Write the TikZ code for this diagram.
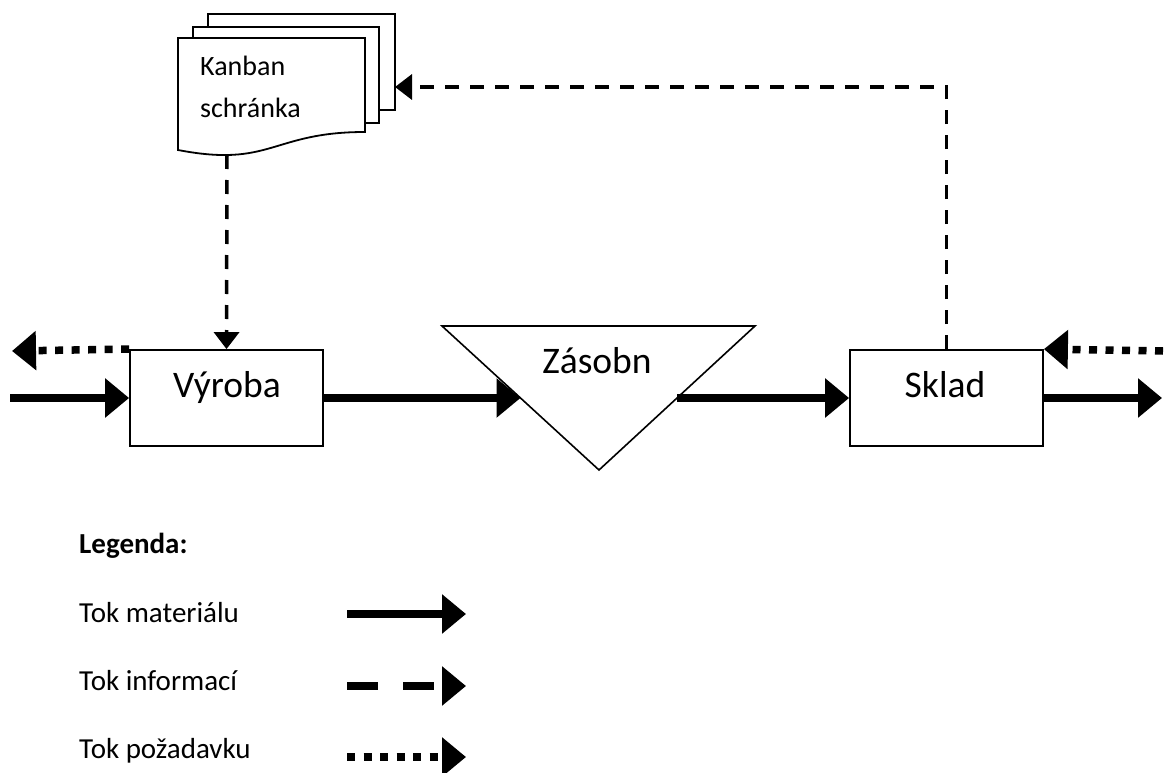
\documentclass[tikz,border=0pt]{standalone}
\usepackage{fontspec}
\setmainfont{Carlito}
\usetikzlibrary{arrows.meta,calc}

\begin{document}
\begin{tikzpicture}[x=1pt,y=-1pt,
  box/.style={draw,line width=1.8pt,fill=white,minimum width=193pt,minimum height=96pt,inner sep=0pt},
  boxlabel/.style={font=\fontsize{37.5}{44}\selectfont,anchor=base,inner sep=0pt},
  doctext/.style={font=\fontsize{28}{33}\selectfont,anchor=base west,inner sep=0pt},
  legtext/.style={font=\fontsize{29}{34}\selectfont,anchor=base west,inner sep=0pt},
  sheet/.style={draw,line width=1.8pt,fill=white,line join=miter},
  material/.style={line width=7.5pt,-{Triangle[length=24pt,width=38pt]}},
  request/.style={line width=7.5pt,dash pattern=on 8pt off 8.5pt,-{Triangle[length=24pt,width=38pt]}},
  info/.style={line width=3.5pt,dash pattern=on 14pt off 11pt,-{Triangle[length=17pt,width=25pt]}},
  legmaterial/.style={line width=8pt,-{Triangle[length=24pt,width=38pt]}},
  leginfo/.style={line width=8pt,dash pattern=on 31pt off 25pt,-{Triangle[length=24pt,width=38pt]}},
  legrequest/.style={line width=8pt,dash pattern=on 8pt off 8.5pt,-{Triangle[length=24pt,width=38pt]}},
]
\useasboundingbox (0,0) rectangle (1170,773);

% Kanban box: a stack of three sheets
\draw[sheet] (208,14) rectangle (395,110);
\draw[sheet] (193,27) rectangle (379,123);
\draw[sheet] (178,150) -- (178,38) -- (365,38) -- (365,132)
  .. controls (271.5,132) and (271.5,168) .. (178,150) -- cycle;
\node[doctext] (kanban1) at (200,76) {Kanban};
\node[doctext] (kanban2) at (200,118) {schránka};
\coordinate (kanban-out) at (227,155);
\coordinate (kanban-in) at (395,87);

% Process boxes
\node[box] (vyroba) at (226.5,398) {};
\node[boxlabel] (vyroba-text) at (227,397) {Výroba};
\node[box] (sklad) at (946.5,398) {};
\node[boxlabel] (sklad-text) at (945,397) {Sklad};

% Inventory triangle
\coordinate (tl) at (442,326);
\coordinate (tr) at (755,326);
\coordinate (bt) at (599,470);
\draw[line width=1.6pt,fill=white,line join=miter] (tl) -- (tr) -- (bt) -- cycle;
\node[boxlabel] (zasoby-text) at (597,373) {Zásobn};
\coordinate (z-in) at ($(tl)!0.5!(bt)$);
\coordinate (z-out) at ($(tr)!0.5!(bt)$);

% Free ends of the flows
\coordinate (mat-start) at (10,398);
\coordinate (mat-end) at (1162,398);
\coordinate (req-left) at (12,351);
\coordinate (req-right) at (1163,351);

% Material flow
\draw[material] (mat-start) -- (vyroba.west);
\draw[material] (vyroba.east) -- (z-in);
\draw[material] (z-out) -- (sklad.west);
\draw[material] (sklad.east) -- (mat-end);

% Request flow
\draw[request] (vyroba.north west) -- (req-left);
\draw[request] (req-right) -- (sklad.north east);

% Information flow
\draw[info,line join=miter] (sklad.north) |- (kanban-in);
\draw[info] (kanban-out) -- (vyroba.north);

% Legend
\node[legtext,font=\fontsize{29}{34}\selectfont\bfseries] (legenda) at (79,553) {Legenda:};
\node[legtext] (leg1) at (79,622) {Tok materiálu};
\node[legtext] (leg2) at (79,690) {Tok informací};
\node[legtext] (leg3) at (79,758) {Tok požadavku};
\coordinate (l1a) at (347,614); \coordinate (l1b) at (466,614);
\coordinate (l2a) at (347,686); \coordinate (l2b) at (466,686);
\coordinate (l3a) at (347,757); \coordinate (l3b) at (466,757);
\draw[legmaterial] (l1a) -- (l1b);
\draw[leginfo] (l2a) -- (l2b);
\draw[legrequest] (l3a) -- (l3b);
\end{tikzpicture}
\end{document}
